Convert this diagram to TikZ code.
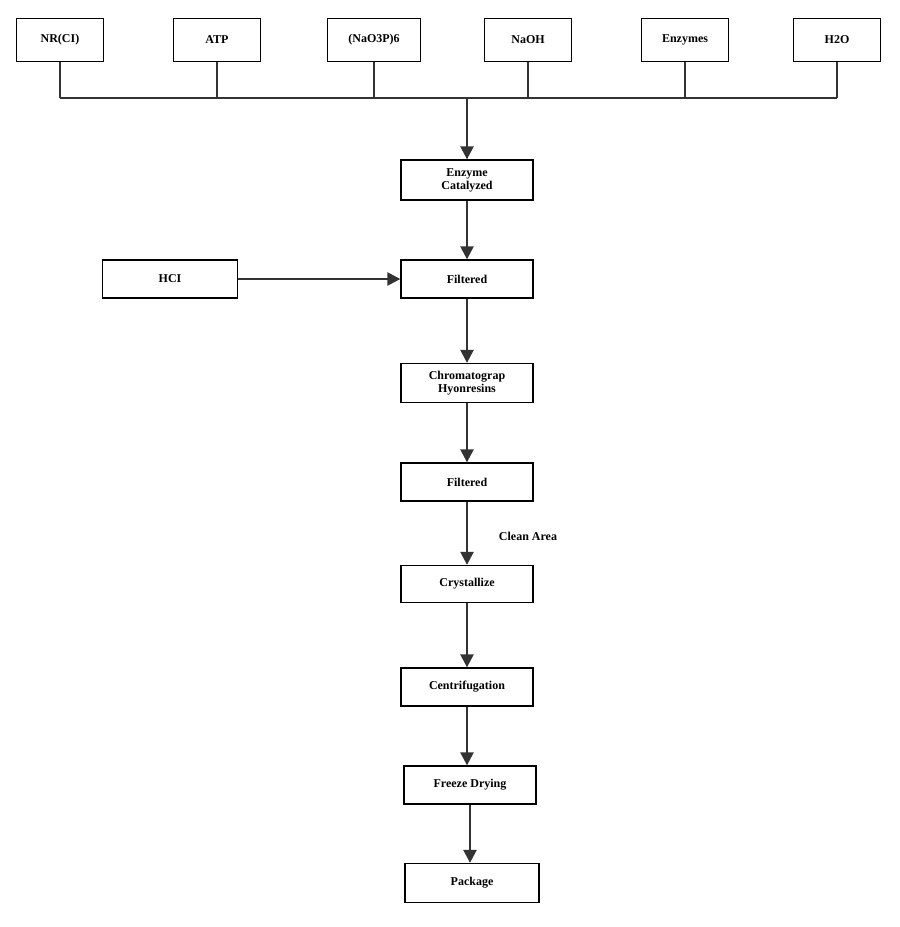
\documentclass[tikz,border=0pt]{standalone}
\usepackage{fontspec}
\setmainfont{Liberation Serif}
\usetikzlibrary{arrows.meta}
\tikzset{
  box/.style={rectangle, draw=black, line width=1.3pt, minimum width=132pt, minimum height=38pt,
    align=center, font=\fontsize{12}{13}\selectfont\bfseries, inner sep=1pt},
  topbox/.style={box, minimum width=87pt, minimum height=43pt},
  link/.style={draw=black!80, line width=2.4pt},
  arrow/.style={link, -{Triangle[length=13pt,width=13pt]}}
}
\begin{document}
\begin{tikzpicture}[x=1pt,y=-1pt]
\useasboundingbox (0,0) rectangle (900,927);

\node (nr) [topbox] at (60,40) {NR(CI)};
\node (atp) [topbox] at (217,40) {ATP};
\node (nao) [topbox, minimum width=93pt] at (374,40) {(NaO3P)6};
\node (naoh) [topbox] at (528,40) {NaOH};
\node (enz) [topbox] at (685,40) {Enzymes};
\node (water) [topbox] at (837,40) {H2O};
\coordinate (busl) at (60,98);
\coordinate (busr) at (837,98);
\coordinate (busm) at (467,98);

\node (cat) [box, minimum height=40pt] at (467,180) {Enzyme\\ Catalyzed};
\node (filt1) [box] at (467,279) {Filtered};
\node (hcl) [box, minimum width=135pt] at (170,279) {HCI};
\node (chrom) [box, minimum height=39pt] at (467,383) {Chromatograp\\ Hyonresins};
\node (filt2) [box] at (467,482) {Filtered};
\node (cryst) [box, minimum height=37pt] at (467,584) {Crystallize};
\node (cent) [box] at (467,687) {Centrifugation};
\node (dry) [box] at (470,785) {Freeze Drying};
\node (pack) [box, minimum width=134pt, minimum height=39pt] at (472,883) {Package};
\node (clean) [font=\fontsize{12}{13}\selectfont\bfseries] at (528,536) {Clean Area};

\draw [link] (busl) -- (busr);
\foreach \n in {nr,atp,nao,naoh,enz,water}
  \draw [link] (\n.south) -- (\n.south |- busl);
\draw [arrow] (busm) -- (cat);
\draw [arrow] (cat) -- (filt1);
\draw [arrow] (hcl) -- (filt1);
\draw [arrow] (filt1) -- (chrom);
\draw [arrow] (chrom) -- (filt2);
\draw [arrow] (filt2) -- (cryst);
\draw [arrow] (cryst) -- (cent);
\draw [arrow] (cent.south) -- (cent.south |- dry.north);
\draw [arrow] (dry.south) -- (dry.south |- pack.north);

\end{tikzpicture}
\end{document}
